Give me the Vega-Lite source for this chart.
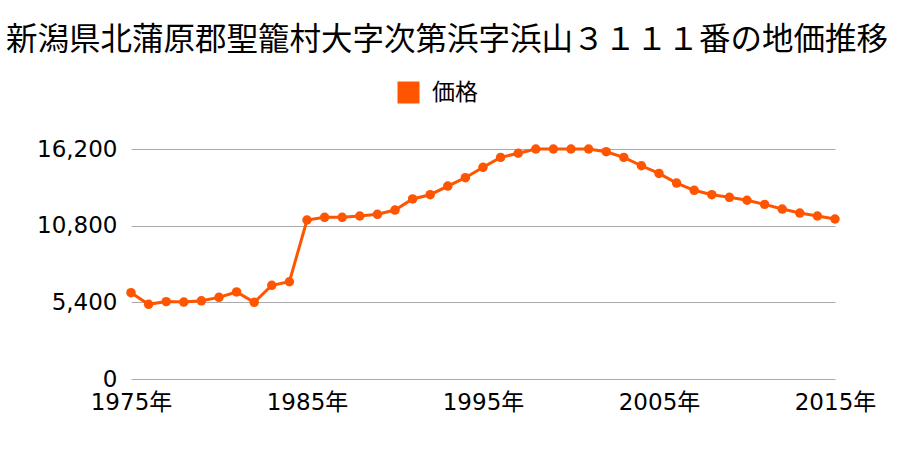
{
  "$schema": "https://vega.github.io/schema/vega-lite/v6.json",
  "width": 704,
  "height": 230,
  "autosize": "none",
  "padding": {"left": 131, "top": 149, "right": 65, "bottom": 71},
  "background": "white",
  "config": {
    "view": {"stroke": null},
    "font": "Noto Sans CJK JP"
  },
  "title": {
    "text": "新潟県北蒲原郡聖籠村大字次第浜字浜山３１１１番の地価推移",
    "font": "Noto Sans CJK JP",
    "fontSize": 31.5,
    "fontWeight": "normal",
    "color": "#000000",
    "anchor": "middle",
    "frame": "group",
    "dx": -36,
    "offset": 25
  },
  "data": {
    "values": [
      {"year": 1975, "price": 6080, "series": "価格"},
      {"year": 1976, "price": 5260, "series": "価格"},
      {"year": 1977, "price": 5450, "series": "価格"},
      {"year": 1978, "price": 5420, "series": "価格"},
      {"year": 1979, "price": 5510, "series": "価格"},
      {"year": 1980, "price": 5750, "series": "価格"},
      {"year": 1981, "price": 6130, "series": "価格"},
      {"year": 1982, "price": 5400, "series": "価格"},
      {"year": 1983, "price": 6600, "series": "価格"},
      {"year": 1984, "price": 6850, "series": "価格"},
      {"year": 1985, "price": 11200, "series": "価格"},
      {"year": 1986, "price": 11390, "series": "価格"},
      {"year": 1987, "price": 11390, "series": "価格"},
      {"year": 1988, "price": 11480, "series": "価格"},
      {"year": 1989, "price": 11600, "series": "価格"},
      {"year": 1990, "price": 11900, "series": "価格"},
      {"year": 1991, "price": 12680, "series": "価格"},
      {"year": 1992, "price": 12980, "series": "価格"},
      {"year": 1993, "price": 13590, "series": "価格"},
      {"year": 1994, "price": 14180, "series": "価格"},
      {"year": 1995, "price": 14910, "series": "価格"},
      {"year": 1996, "price": 15610, "series": "価格"},
      {"year": 1997, "price": 15900, "series": "価格"},
      {"year": 1998, "price": 16200, "series": "価格"},
      {"year": 1999, "price": 16200, "series": "価格"},
      {"year": 2000, "price": 16200, "series": "価格"},
      {"year": 2001, "price": 16200, "series": "価格"},
      {"year": 2002, "price": 16010, "series": "価格"},
      {"year": 2003, "price": 15610, "series": "価格"},
      {"year": 2004, "price": 15020, "series": "価格"},
      {"year": 2005, "price": 14480, "series": "価格"},
      {"year": 2006, "price": 13800, "series": "価格"},
      {"year": 2007, "price": 13290, "series": "価格"},
      {"year": 2008, "price": 12980, "series": "価格"},
      {"year": 2009, "price": 12800, "series": "価格"},
      {"year": 2010, "price": 12590, "series": "価格"},
      {"year": 2011, "price": 12300, "series": "価格"},
      {"year": 2012, "price": 11970, "series": "価格"},
      {"year": 2013, "price": 11690, "series": "価格"},
      {"year": 2014, "price": 11480, "series": "価格"},
      {"year": 2015, "price": 11270, "series": "価格"}
    ]
  },
  "encoding": {
    "x": {
      "field": "year",
      "type": "quantitative",
      "scale": {"domain": [1975, 2015], "nice": false, "zero": false},
      "axis": {
        "title": null,
        "values": [1975, 1985, 1995, 2005, 2015],
        "labelExpr": "datum.value + '年'",
        "grid": false,
        "domain": false,
        "ticks": false,
        "labelFont": "'DejaVu Sans', 'Noto Sans CJK JP'",
        "labelFontSize": 23,
        "labelColor": "#000000",
        "labelPadding": 12,
        "labelFlush": false
      }
    },
    "y": {
      "field": "price",
      "type": "quantitative",
      "scale": {"domain": [0, 16200], "nice": false},
      "axis": {
        "title": null,
        "values": [0, 5400, 10800, 16200],
        "format": ",d",
        "grid": true,
        "gridColor": "#aaaaaa",
        "gridWidth": 1,
        "domain": false,
        "ticks": false,
        "labelFont": "'DejaVu Sans', 'Noto Sans CJK JP'",
        "labelFontSize": 23,
        "labelColor": "#000000",
        "labelPadding": 14
      }
    }
  },
  "layer": [
    {
      "mark": {"type": "line", "color": "#ff5500", "strokeWidth": 3}
    },
    {
      "mark": {"type": "point", "filled": true, "opacity": 1, "size": 90, "shape": "circle"},
      "encoding": {
        "color": {
          "field": "series",
          "type": "nominal",
          "scale": {"range": ["#ff5500"]},
          "legend": {
            "title": null,
            "orient": "none",
            "legendX": 266,
            "legendY": -68,
            "padding": 0,
            "symbolType": "square",
            "symbolSize": 484,
            "symbolOpacity": 1,
            "symbolStrokeWidth": 0,
            "labelFont": "Noto Sans CJK JP",
            "labelFontSize": 23,
            "labelColor": "#000000",
            "labelOffset": 12
          }
        }
      }
    }
  ]
}
